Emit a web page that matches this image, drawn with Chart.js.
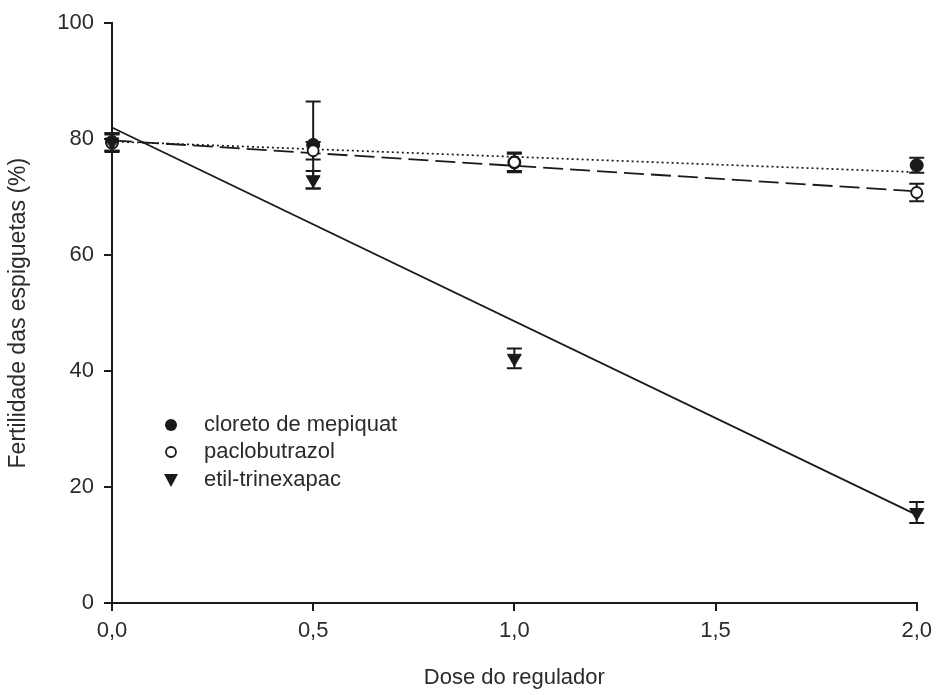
<!DOCTYPE html>
<html>
<head>
<meta charset="utf-8">
<script src="https://cdn.jsdelivr.net/npm/chart.js@4.4.1/dist/chart.umd.min.js"></script>
<style>
  html, body { margin: 0; padding: 0; background: #ffffff; }
  #wrap { position: relative; width: 939px; height: 695px; }
</style>
</head>
<body>
<div id="wrap"><canvas id="c" width="939" height="695"></canvas></div>
<script>
// ---- Data ----
const doses = [0, 0.5, 1.0, 2.0];
const xTickLabels = ['0,0', '0,5', '1,0', '1,5', '2,0'];
const yTickLabels = [0, 20, 40, 60, 80, 100];

const seriesNames = ['cloreto de mepiquat', 'paclobutrazol', 'etil-trinexapac'];

const mepiquat      = [79.5, 79.0, 76.0, 75.5];
const mepiquatErr   = [1.5, 7.5, 1.5, 1.3];
const paclobutrazol = [79.3, 78.0, 76.0, 70.8];
const paclobutrazolErr = [1.5, 1.5, 1.7, 1.5];
const trinexapac    = [79.5, 73.0, 42.2, 15.6];
const trinexapacErr = [1.5, 1.5, 1.7, 1.8];

// fitted regression lines (endpoints at dose 0 and 2)
const fitX = [0, 2];
const mepiquatFit = [79.6, 74.3];
const paclobutrazolFit = [79.8, 71.0];
const trinexapacFit = [82.0, 15.2];

const ink = '#1a1a1a';
const textCol = '#2b2b2b';
const FONT = '"Liberation Sans", Arial, sans-serif';

function pts(xs, ys) { return xs.map((x, i) => ({ x: x, y: ys[i] })); }

const errSets = [
  { vals: mepiquat, err: mepiquatErr },
  { vals: paclobutrazol, err: paclobutrazolErr },
  { vals: trinexapac, err: trinexapacErr }
];

const errorBarPlugin = {
  id: 'errorBars',
  beforeDatasetsDraw(chart) {
    const ctx = chart.ctx, xs = chart.scales.x, ys = chart.scales.y;
    ctx.save();
    ctx.strokeStyle = ink;
    ctx.lineWidth = 2;
    errSets.forEach(s => {
      doses.forEach((d, i) => {
        const px = xs.getPixelForValue(d);
        const top = ys.getPixelForValue(s.vals[i] + s.err[i]);
        const bot = ys.getPixelForValue(s.vals[i] - s.err[i]);
        ctx.beginPath();
        ctx.moveTo(px, top); ctx.lineTo(px, bot);
        ctx.moveTo(px - 7.5, top); ctx.lineTo(px + 7.5, top);
        ctx.moveTo(px - 7.5, bot); ctx.lineTo(px + 7.5, bot);
        ctx.stroke();
      });
    });
    ctx.restore();
  }
};

const legendPlugin = {
  id: 'insideLegend',
  afterDraw(chart) {
    const ctx = chart.ctx;
    ctx.save();
    const mx = 171, tx = 204, rows = [425, 452, 480];
    ctx.fillStyle = ink; ctx.strokeStyle = ink; ctx.lineWidth = 1.8;
    ctx.beginPath(); ctx.arc(mx, rows[0], 6, 0, Math.PI * 2); ctx.fill();
    ctx.beginPath(); ctx.arc(mx, rows[1], 5, 0, Math.PI * 2);
    ctx.fillStyle = '#fff'; ctx.fill(); ctx.stroke();
    ctx.fillStyle = ink;
    ctx.beginPath();
    ctx.moveTo(mx - 7, rows[2] - 6); ctx.lineTo(mx + 7, rows[2] - 6); ctx.lineTo(mx, rows[2] + 7);
    ctx.closePath(); ctx.fill();
    ctx.fillStyle = textCol;
    ctx.font = '22px ' + FONT;
    ctx.textBaseline = 'middle';
    seriesNames.forEach((n, i) => ctx.fillText(n, tx, rows[i]));
    ctx.restore();
  }
};

new Chart(document.getElementById('c'), {
  type: 'scatter',
  data: {
    datasets: [
      { label: seriesNames[0] + ' fit', type: 'line', data: pts(fitX, mepiquatFit),
        borderColor: ink, borderWidth: 1.7, borderDash: [2, 3], pointRadius: 0, fill: false, order: 5, clip: false },
      { label: seriesNames[1] + ' fit', type: 'line', data: pts(fitX, paclobutrazolFit),
        borderColor: ink, borderWidth: 1.8, borderDash: [20, 7], pointRadius: 0, fill: false, order: 5, clip: false },
      { label: seriesNames[2] + ' fit', type: 'line', data: pts(fitX, trinexapacFit),
        borderColor: ink, borderWidth: 1.8, pointRadius: 0, fill: false, order: 5, clip: false },
      { label: seriesNames[0], data: pts(doses, mepiquat), pointStyle: 'circle',
        pointRadius: 6.5, backgroundColor: ink, borderColor: ink, borderWidth: 1, order: 3, clip: false },
      { label: seriesNames[1], data: pts(doses, paclobutrazol), pointStyle: 'circle',
        pointRadius: 5.5, backgroundColor: '#ffffff', borderColor: ink, borderWidth: 1.8, order: 2, clip: false },
      { label: seriesNames[2], data: pts(doses, trinexapac), pointStyle: 'triangle', rotation: 180,
        pointRadius: 8, backgroundColor: ink, borderColor: ink, borderWidth: 1, order: 1, clip: false }
    ]
  },
  options: {
    responsive: false,
    animation: false,
    layout: { padding: { left: 0, right: 18, top: 20, bottom: 0 } },
    plugins: { legend: { display: false }, tooltip: { enabled: false } },
    scales: {
      x: {
        type: 'linear', min: 0, max: 2,
        afterBuildTicks(scale) { scale.ticks = xTickLabels.map((t, i) => ({ value: i * 0.5 })); },
        afterFit(scale) { scale.height = 92; },
        border: { display: true, color: ink, width: 2 },
        grid: { display: true, drawOnChartArea: false, drawTicks: true, tickLength: 8, color: ink, lineWidth: 2 },
        ticks: { color: textCol, font: { family: FONT, size: 22 }, padding: 7, maxRotation: 0,
          callback: (v, i) => xTickLabels[i] },
        title: { display: true, text: 'Dose do regulador', color: textCol,
          font: { family: FONT, size: 22 }, padding: { top: 4, bottom: 4 } }
      },
      y: {
        min: 0, max: 100,
        afterBuildTicks(scale) { scale.ticks = yTickLabels.map(v => ({ value: v })); },
        afterFit(scale) { scale.width = 112; },
        border: { display: true, color: ink, width: 2 },
        grid: { display: true, drawOnChartArea: false, drawTicks: true, tickLength: 8, color: ink, lineWidth: 2 },
        ticks: { color: textCol, font: { family: FONT, size: 22 }, padding: 10,
          callback: v => String(v) },
        title: { display: true, text: 'Fertilidade das espiguetas (%)', color: textCol,
          font: { family: FONT, size: 23 }, padding: { top: 5, bottom: 4 } }
      }
    }
  },
  plugins: [errorBarPlugin, legendPlugin]
});
</script>
</body>
</html>
